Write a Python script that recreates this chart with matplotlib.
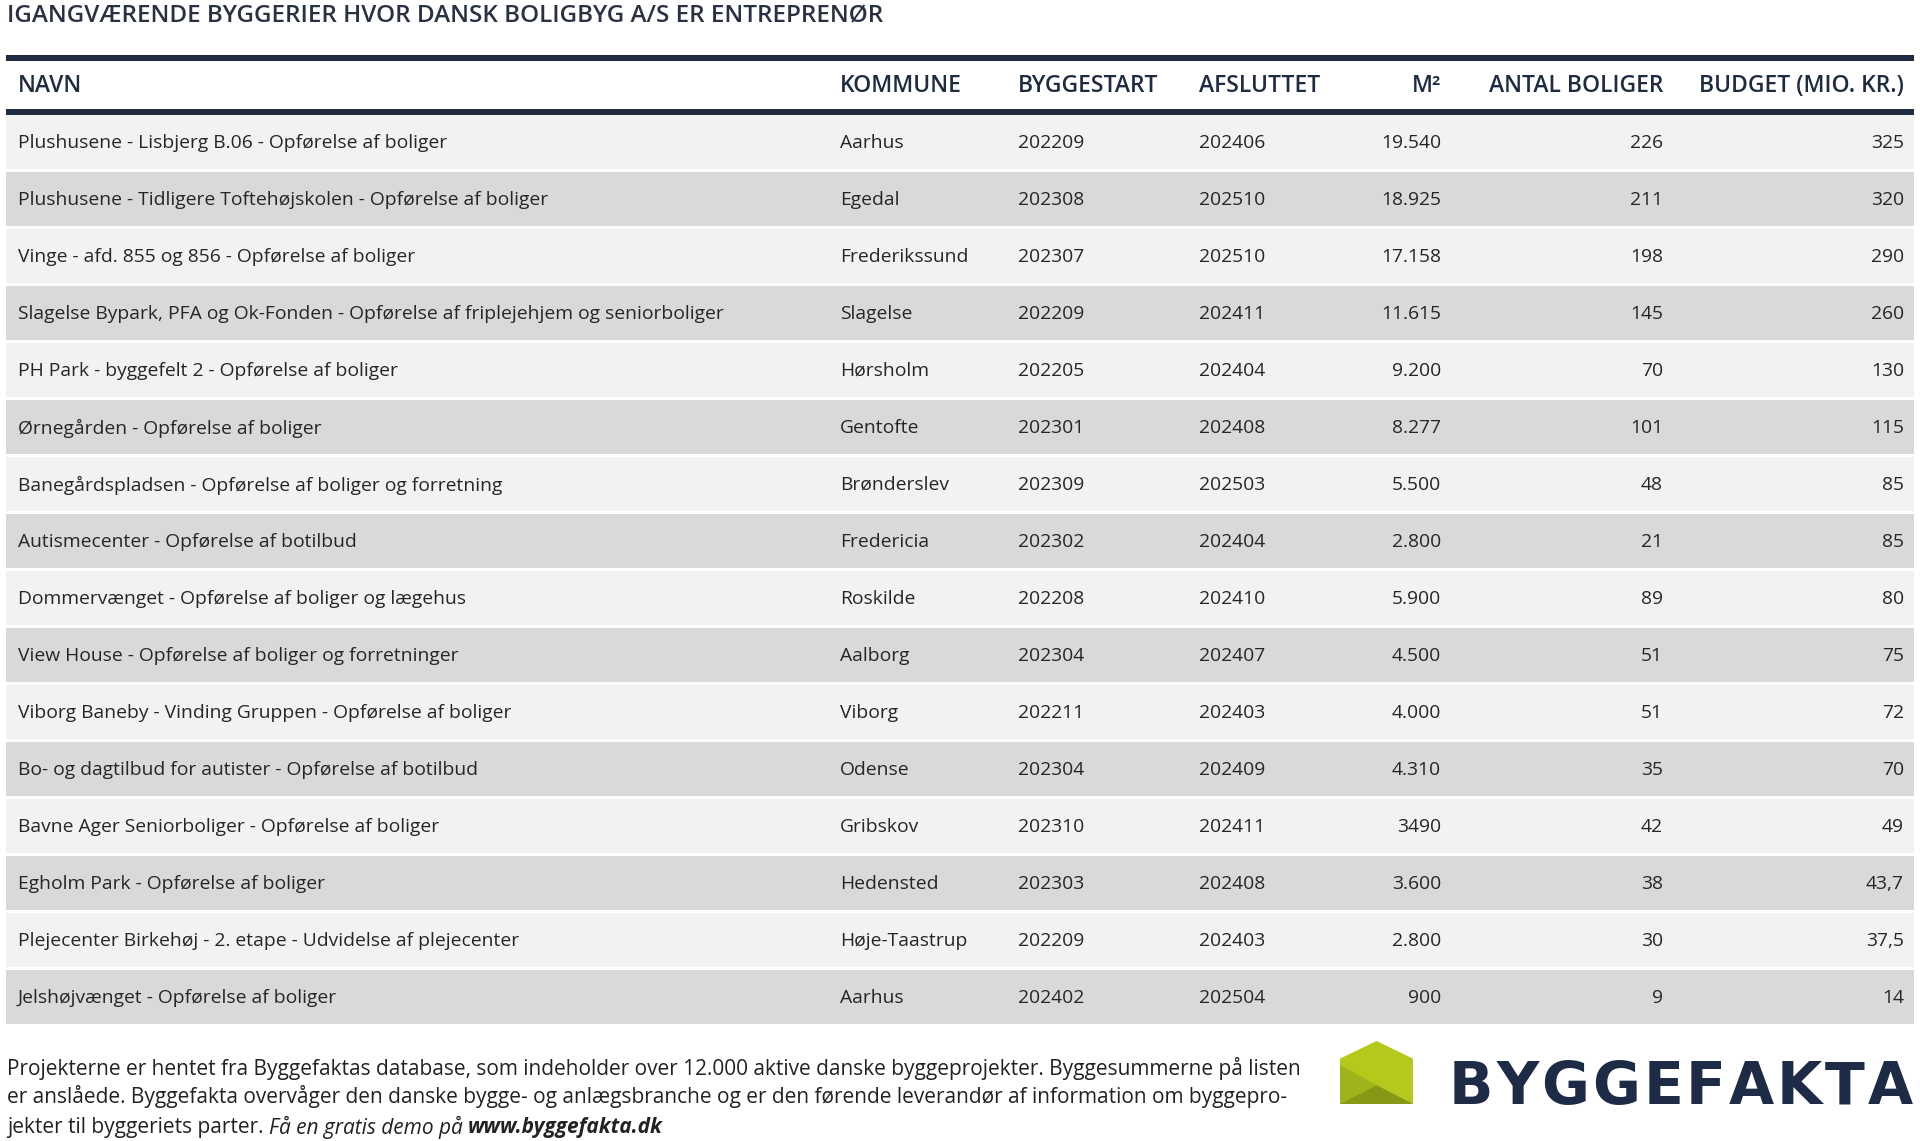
import matplotlib.pyplot as plt
from matplotlib.patches import Rectangle, Polygon

plt.rcParams['font.family'] = ['Open Sans', 'DejaVu Sans']

title = "IGANGVÆRENDE BYGGERIER HVOR DANSK BOLIGBYG A/S ER ENTREPRENØR"
columns = ["NAVN", "KOMMUNE", "BYGGESTART", "AFSLUTTET", "M²", "ANTAL BOLIGER", "BUDGET (MIO. KR.)"]

names = [
    "Plushusene - Lisbjerg B.06 - Opførelse af boliger",
    "Plushusene - Tidligere Toftehøjskolen - Opførelse af boliger",
    "Vinge - afd. 855 og 856 - Opførelse af boliger",
    "Slagelse Bypark, PFA og Ok-Fonden - Opførelse af friplejehjem og seniorboliger",
    "PH Park - byggefelt 2 - Opførelse af boliger",
    "Ørnegården - Opførelse af boliger",
    "Banegårdspladsen - Opførelse af boliger og forretning",
    "Autismecenter - Opførelse af botilbud",
    "Dommervænget - Opførelse af boliger og lægehus",
    "View House - Opførelse af boliger og forretninger",
    "Viborg Baneby - Vinding Gruppen - Opførelse af boliger",
    "Bo- og dagtilbud for autister - Opførelse af botilbud",
    "Bavne Ager Seniorboliger - Opførelse af boliger",
    "Egholm Park - Opførelse af boliger",
    "Plejecenter Birkehøj - 2. etape - Udvidelse af plejecenter",
    "Jelshøjvænget - Opførelse af boliger",
]
kommuner = ["Aarhus", "Egedal", "Frederikssund", "Slagelse", "Hørsholm", "Gentofte",
            "Brønderslev", "Fredericia", "Roskilde", "Aalborg", "Viborg", "Odense",
            "Gribskov", "Hedensted", "Høje-Taastrup", "Aarhus"]
byggestart = ["202209", "202308", "202307", "202209", "202205", "202301", "202309", "202302",
              "202208", "202304", "202211", "202304", "202310", "202303", "202209", "202402"]
afsluttet = ["202406", "202510", "202510", "202411", "202404", "202408", "202503", "202404",
             "202410", "202407", "202403", "202409", "202411", "202408", "202403", "202504"]
m2 = ["19.540", "18.925", "17.158", "11.615", "9.200", "8.277", "5.500", "2.800",
      "5.900", "4.500", "4.000", "4.310", "3490", "3.600", "2.800", "900"]
boliger = [226, 211, 198, 145, 70, 101, 48, 21, 89, 51, 51, 35, 42, 38, 30, 9]
budget = ["325", "320", "290", "260", "130", "115", "85", "85",
          "80", "75", "72", "70", "49", "43,7", "37,5", "14"]

footer_1 = "Projekterne er hentet fra Byggefaktas database, som indeholder over 12.000 aktive danske byggeprojekter. Byggesummerne på listen"
footer_2 = "er anslåede. Byggefakta overvåger den danske bygge- og anlægsbranche og er den førende leverandør af information om byggepro-"
footer_3 = ["jekter til byggeriets parter. ", "Få en gratis demo på ", "www.byggefakta.dk"]

navy = "#1f2b40"
text_col = "#262626"
light = "#f2f2f2"
dark = "#d9d9d9"

fig = plt.figure(figsize=(19.2, 11.41), dpi=100)
ax = fig.add_axes([0, 0, 1, 1])
ax.set_xlim(0, 1920)
ax.set_ylim(1141, 0)
ax.axis('off')

# title
ax.text(7, 16, title, fontsize=17.5, fontweight='semibold', color="#2a3142", va='center', ha='left')

# table geometry
left, right = 6, 1914
col_x = [18, 840, 1018, 1199, 1441, 1663, 1904]
col_ha = ['left', 'left', 'left', 'left', 'right', 'right', 'right']
row_top = 115
pitch = 57
row_h = 54

ax.add_patch(Rectangle((left, 55), right - left, 6, color=navy, lw=0))
ax.add_patch(Rectangle((left, 109), right - left, 6, color=navy, lw=0))
for c, x, ha in zip(columns, col_x, col_ha):
    ax.text(x, 86, c, fontsize=16.5, fontweight='semibold', color=navy, ha=ha, va='center')

for i in range(len(names)):
    top = row_top + i * pitch
    ax.add_patch(Rectangle((left, top), right - left, row_h,
                           color=light if i % 2 == 0 else dark, lw=0))
    cy = top + row_h / 2 + 1
    vals = [names[i], kommuner[i], byggestart[i], afsluttet[i], m2[i], str(boliger[i]), budget[i]]
    for v, x, ha in zip(vals, col_x, col_ha):
        ax.text(x, cy, v, fontsize=13.9, color=text_col, ha=ha, va='center')

# footer
ax.text(7, 1068, footer_1, fontsize=15, color="#222222", va='center')
ax.text(7, 1097, footer_2, fontsize=15, color="#222222", va='center')
renderer = fig.canvas.get_renderer()
x = 7
for part, style, weight in zip(footer_3, ['normal', 'italic', 'italic'], ['normal', 'normal', 'bold']):
    t = ax.text(x, 1127, part, fontsize=15, color="#222222", va='center',
                fontstyle=style, fontweight=weight)
    bb = t.get_window_extent(renderer)
    x += bb.width

# logo: house
hx0, hx1, hy0, hy1 = 1340, 1413, 1041, 1104
w, h = hx1 - hx0, hy1 - hy0
def P(u, v):
    return (hx0 + u * w, hy0 + v * h)
ax.add_patch(Polygon([P(0.5, 0), P(1, 0.28), P(1, 1), P(0, 1), P(0, 0.28)], closed=True,
                     color="#b4c91c", lw=0))
ax.add_patch(Polygon([P(0, 0.38), P(0.5, 0.7), P(0, 1)], closed=True, color="#9fb31a", lw=0))
ax.add_patch(Polygon([P(0, 1), P(0.5, 0.7), P(1, 1)], closed=True, color="#879816", lw=0))

# logo: wordmark, letters spread across target width
word = "BYGGEFAKTA"
wx0, wx1 = 1449, 1913
letters = []
for ch in word:
    t = ax.text(0, 1104, ch, fontsize=42, fontweight='bold', family='DejaVu Sans',
                color="#1d2b47", va='baseline', ha='left')
    letters.append((t, t.get_window_extent(renderer).width))
total = sum(wd for _, wd in letters)
gap = (wx1 - wx0 - total) / (len(word) - 1)
x = wx0
for t, wd in letters:
    t.set_x(x)
    x += wd + gap

fig.savefig("out.png", dpi=100)
